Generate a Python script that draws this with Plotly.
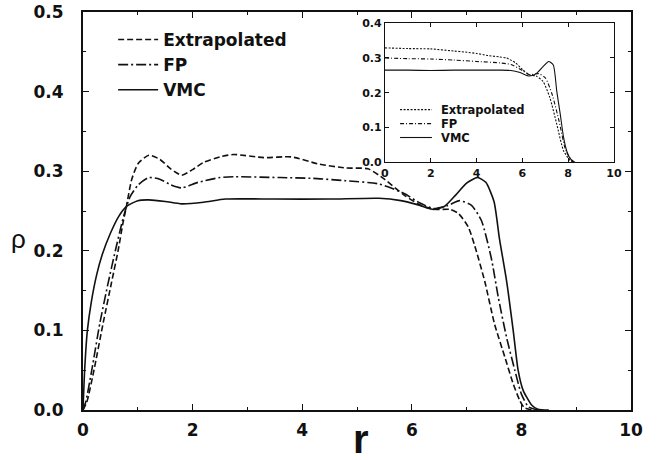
import plotly.graph_objects as go

# ---------------- main panel data ----------------
r_vmc = [0, 0.03, 0.08, 0.15, 0.25, 0.35, 0.5, 0.65, 0.8, 1.0, 1.2, 1.5, 1.8, 2.2, 2.6, 3.5, 4.5, 5.4,
         5.8, 6.1, 6.4, 6.6, 6.8, 7.0, 7.2, 7.35, 7.5, 7.6, 7.73, 7.85, 7.94, 8.03, 8.19, 8.3, 8.5]
rho_vmc = [0, 0.05, 0.1, 0.135, 0.17, 0.195, 0.222, 0.243, 0.256, 0.263, 0.264, 0.262, 0.259, 0.261,
           0.265, 0.265, 0.265, 0.266, 0.263, 0.258, 0.252, 0.256, 0.27, 0.285, 0.292, 0.286, 0.262,
           0.215, 0.162, 0.1, 0.05, 0.025, 0.006, 0.001, 0]

r_ext = [0, 0.07, 0.2, 0.37, 0.52, 0.64, 0.73, 0.79, 0.89, 1.01, 1.2, 1.4, 1.6, 1.8, 2.0, 2.2, 2.5,
         2.75, 3.3, 3.8, 4.3, 4.8, 5.2, 5.5, 5.86, 6.2, 6.45, 6.7, 6.85, 7.03, 7.15, 7.33, 7.51, 7.7,
         7.85, 7.97, 8.05, 8.2]
rho_ext = [0, 0.01, 0.05, 0.11, 0.16, 0.2, 0.235, 0.255, 0.29, 0.31, 0.32, 0.315, 0.303, 0.295,
           0.302, 0.311, 0.318, 0.321, 0.317, 0.318, 0.309, 0.304, 0.303, 0.29, 0.27, 0.256, 0.252,
           0.252, 0.247, 0.23, 0.206, 0.162, 0.108, 0.066, 0.033, 0.012, 0.003, 0]

r_fp = [0, 0.05, 0.16, 0.31, 0.46, 0.59, 0.71, 0.77, 0.86, 1.01, 1.2, 1.4, 1.6, 1.8, 2.1, 2.5, 2.75,
        3.6, 4.2, 4.8, 5.4, 5.86, 6.15, 6.4, 6.66, 6.87, 7.09, 7.27, 7.45, 7.58, 7.73, 7.88, 8.0,
        8.13, 8.3]
rho_fp = [0, 0.01, 0.05, 0.11, 0.16, 0.2, 0.235, 0.25, 0.268, 0.283, 0.292, 0.29, 0.283, 0.279,
          0.286, 0.292, 0.293, 0.292, 0.291, 0.288, 0.284, 0.272, 0.26, 0.253, 0.257, 0.263, 0.257,
          0.238, 0.191, 0.141, 0.091, 0.05, 0.02, 0.004, 0]

# ---------------- inset data ----------------
ri_ext = [0, 1, 2, 3, 3.5, 4, 4.5, 5, 5.3, 5.7, 6.0, 6.3, 6.6, 6.9, 7.2, 7.5, 7.8, 8.1, 8.3]
rhoi_ext = [0.329, 0.327, 0.326, 0.32, 0.317, 0.313, 0.307, 0.303, 0.300, 0.286, 0.267, 0.252,
            0.248, 0.233, 0.186, 0.11, 0.033, 0.005, 0]
ri_fp = [0, 1, 2, 3, 4, 5, 5.5, 6.0, 6.3, 6.7, 7.0, 7.3, 7.6, 7.9, 8.2]
rhoi_fp = [0.300, 0.298, 0.297, 0.294, 0.29, 0.286, 0.281, 0.264, 0.252, 0.255, 0.243, 0.195,
           0.119, 0.033, 0]
ri_vmc = [0, 1, 2, 3, 4, 5, 5.5, 5.9, 6.3, 6.6, 6.9, 7.15, 7.35, 7.5, 7.65, 7.8, 7.95, 8.1, 8.3]
rhoi_vmc = [0.265, 0.265, 0.264, 0.265, 0.265, 0.265, 0.264, 0.258, 0.248, 0.255, 0.275, 0.29,
            0.28, 0.205, 0.14, 0.071, 0.03, 0.01, 0]

series_names = ["Extrapolated", "FP", "VMC"]
x_ticks = [0, 2, 4, 6, 8, 10]

INK = "#111111"
FONT = "DejaVu Sans"

fig = go.Figure()

main_dash = {"Extrapolated": "6px,3px", "FP": "10px,3px,2px,3px", "VMC": "solid"}
inset_dash = {"Extrapolated": "2px,1.5px", "FP": "4px,2px,1px,2px", "VMC": "solid"}

for name, xs, ys in zip(series_names, [r_ext, r_fp, r_vmc], [rho_ext, rho_fp, rho_vmc]):
    fig.add_trace(go.Scatter(
        x=xs, y=ys, mode="lines", name=name, legend="legend",
        line=dict(color=INK, width=1.6, dash=main_dash[name], shape="spline", smoothing=0.6),
        xaxis="x", yaxis="y"))

for name, xs, ys in zip(series_names, [ri_ext, ri_fp, ri_vmc], [rhoi_ext, rhoi_fp, rhoi_vmc]):
    fig.add_trace(go.Scatter(
        x=xs, y=ys, mode="lines", name=name, showlegend=False,
        line=dict(color=INK, width=1.1, dash=inset_dash[name], shape="spline", smoothing=0.6),
        xaxis="x2", yaxis="y2"))

# inset legend (key lines + labels) placed in the inset's domain
shapes = []
annotations = []
key_rows = [0.379, 0.279, 0.179]
for name, yk in zip(series_names, key_rows):
    shapes.append(dict(type="line", xref="x2 domain", yref="y2 domain",
                       x0=0.066, x1=0.205, y0=yk, y1=yk,
                       line=dict(color=INK, width=1.1, dash=inset_dash[name])))
    annotations.append(dict(text=name, xref="x2 domain", yref="y2 domain", x=0.235, y=yk,
                            xanchor="left", yanchor="middle", showarrow=False,
                            font=dict(size=11.5, family=FONT, weight="bold", color=INK)))

annotations.append(dict(text="ρ", xref="paper", yref="paper", x=-0.135, y=0.43,
                        showarrow=False, font=dict(size=26, family="Liberation Sans", color=INK)))
annotations.append(dict(text="r", xref="paper", yref="paper", x=0.507, y=-0.073,
                        xanchor="center", yanchor="middle", showarrow=False,
                        font=dict(size=40, family="Liberation Sans", weight="bold", color=INK)))

axis_common = dict(showline=True, linecolor=INK, mirror="allticks", ticks="inside",
                   tickcolor=INK, showgrid=False, zeroline=False, automargin=False)

fig.update_layout(
    width=662, height=460,
    margin=dict(l=83, r=31, t=12, b=50),
    paper_bgcolor="white", plot_bgcolor="white",
    font=dict(family=FONT, color=INK),
    xaxis=dict(**axis_common, range=[0, 10], tickvals=x_ticks, linewidth=2,
               ticklen=6, tickwidth=1.2, ticklabelstandoff=4,
               minor=dict(ticks="inside", dtick=1, ticklen=3, tickcolor=INK),
               tickfont=dict(size=17, family=FONT, weight="bold", color=INK)),
    yaxis=dict(**axis_common, range=[0, 0.5], dtick=0.1, tickformat=".1f", linewidth=2,
               ticklen=6, tickwidth=1.2, ticklabelstandoff=14,
               minor=dict(ticks="inside", dtick=0.05, ticklen=3, tickcolor=INK),
               tickfont=dict(size=17, family=FONT, weight="bold", color=INK)),
    xaxis2=dict(**axis_common, domain=[0.551, 0.969], anchor="y2", range=[0, 10],
                tickvals=x_ticks, linewidth=1.2, ticklen=4,
                tickfont=dict(size=11, family=FONT, weight="bold", color=INK)),
    yaxis2=dict(**axis_common, domain=[0.622, 0.972], anchor="x2", range=[0, 0.4],
                dtick=0.1, tickformat=".1f", linewidth=1.2, ticklen=4,
                tickfont=dict(size=11, family=FONT, weight="bold", color=INK)),
    legend=dict(x=0.055, y=0.975, xanchor="left", yanchor="top", bgcolor="rgba(0,0,0,0)",
                font=dict(size=17, family=FONT, weight="bold", color=INK),
                tracegroupgap=0, itemwidth=40),
    shapes=shapes,
    annotations=annotations,
)

fig.write_html("out.html")
